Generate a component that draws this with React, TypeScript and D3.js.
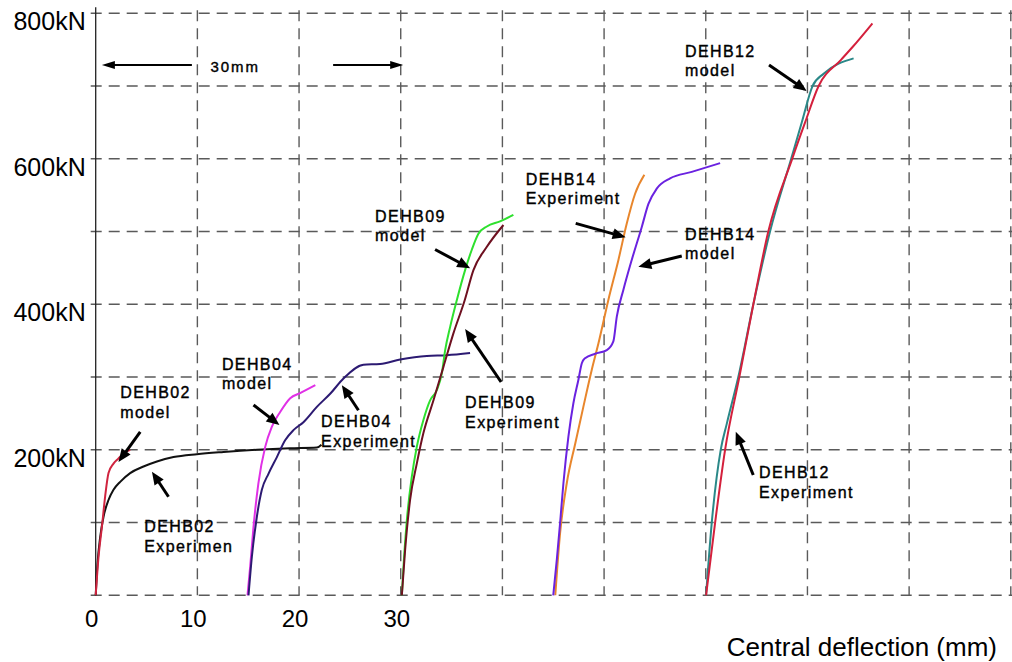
import React from 'react';
import * as d3 from 'd3';

type Pt = [number, number];

// ---- axis values ----
const xTickLabels = [0, 10, 20, 30];
const xGridValues = [10, 20, 30, 40, 50, 60, 70, 80, 90];
const yTickLabels = [200, 400, 600, 800];
const yGridValues = [0, 100, 200, 300, 400, 500, 600, 700, 800];

// ---- series (deflection mm, load kN) ----
const dehb02Model: Pt[] = [[0, 0], [0.28, 53], [0.61, 94], [0.93, 136], [1.26, 168], [1.75, 181], [2.24, 188], [2.73, 195], [3.39, 200]];
const dehb02Exp: Pt[] = [[0, 0], [0.18, 44], [0.44, 80], [0.77, 108], [1.26, 131], [1.75, 145], [2.41, 156], [3.39, 168], [4.7, 177], [6.02, 184], [7.65, 190], [9.95, 194], [12.57, 197], [15.85, 200], [19.1, 202], [21.75, 203], [22.2, 207]];
const dehb04Model: Pt[] = [[14.93, 0], [15.19, 39], [15.52, 94], [16.0, 154], [16.67, 204], [17.33, 232], [18.14, 252], [19.13, 271], [20.1, 278], [21.6, 289]];
const dehb04Exp: Pt[] = [[15.03, 0], [15.36, 53], [15.85, 108], [16.34, 145], [16.99, 167], [17.82, 190], [18.63, 213], [19.45, 227], [20.43, 238], [21.75, 259], [23.06, 277], [24.37, 298], [26.33, 317], [27.97, 318], [29.94, 324], [32.57, 329], [34.53, 330], [36.82, 333]];
const dehb09Model: Pt[] = [[30.11, 0], [30.27, 39], [30.6, 103], [31.09, 163], [31.58, 204], [32.23, 241], [32.89, 268], [33.55, 282], [34.04, 305], [34.37, 337], [34.86, 369], [35.52, 406], [36.33, 447], [36.99, 475], [37.64, 497], [38.47, 507], [39.77, 514], [41.08, 523]];
const dehb09Exp: Pt[] = [[30.11, 0], [30.43, 62], [30.92, 131], [31.58, 181], [32.23, 223], [33.22, 268], [34.2, 314], [35.18, 360], [36.3, 406], [37.15, 447], [38.47, 479], [40.1, 509]];
const dehb14Model: Pt[] = [[45.0, 0], [45.35, 49], [45.67, 99], [46.0, 154], [46.49, 218], [46.98, 264], [47.47, 296], [47.81, 319], [48.13, 326], [49.12, 332], [50.27, 337], [50.91, 349], [51.25, 383], [51.9, 420], [52.72, 461], [53.7, 506], [54.36, 538], [55.18, 559], [56.49, 573], [58.62, 582], [61.41, 594]];
const dehb14Exp: Pt[] = [[45.2, 0], [45.67, 85], [46.33, 154], [47.17, 209], [47.96, 259], [48.79, 310], [49.44, 346], [50.42, 406], [51.41, 461], [52.23, 511], [53.05, 552], [53.96, 578]];
const dehb12Model: Pt[] = [[60.03, 0], [60.59, 100], [61.47, 200], [62.07, 236], [63.2, 300], [64.68, 400], [66.32, 500], [68.4, 600], [69.44, 650], [70.5, 700], [71.59, 717], [74.54, 738]];
const dehb12Exp: Pt[] = [[60.03, 0], [60.92, 100], [61.9, 200], [63.3, 300], [64.68, 400], [66.15, 500], [68.5, 600], [69.77, 650], [71.1, 700], [73.3, 736], [74.46, 754], [76.38, 786]];

const seriesNames = ['dehb02Exp', 'dehb02Model', 'dehb04Model', 'dehb04Exp', 'dehb09Model', 'dehb09Exp', 'dehb14Exp', 'dehb14Model', 'dehb12Model', 'dehb12Exp'];
const seriesData: Record<string, Pt[]> = { dehb02Model, dehb02Exp, dehb04Model, dehb04Exp, dehb09Model, dehb09Exp, dehb14Model, dehb14Exp, dehb12Model, dehb12Exp };
const seriesColors: Record<string, string> = {
  dehb02Model: '#d0243f',
  dehb02Exp: '#111111',
  dehb04Model: '#e030e6',
  dehb04Exp: '#2c1a72',
  dehb09Model: '#2ee02e',
  dehb09Exp: '#6e1020',
  dehb14Model: '#6a22e0',
  dehb14Exp: '#e8862c',
  dehb12Model: '#2a8888',
  dehb12Exp: '#d4203c',
};

// ---- annotations (data coordinates) ----
const labelTexts: string[][] = [
  ['DEHB02', 'model'], ['DEHB02', 'Experimen'], ['DEHB04', 'model'], ['DEHB04', 'Experiment'],
  ['DEHB09', 'model'], ['DEHB09', 'Experiment'], ['DEHB14', 'Experiment'], ['DEHB14', 'model'],
  ['DEHB12', 'model'], ['DEHB12', 'Experiment'],
];
const labelAnchors: Pt[] = [
  [2.41, 271.2], [4.77, 87.0], [12.41, 309.7], [22.17, 231.3],
  [27.48, 513.5], [36.33, 257.4], [42.3, 564.0], [57.96, 488.4],
  [57.96, 740.3], [65.24, 161.2],
];
const arrowTails: Pt[] = [
  [4.38, 224.6], [7.16, 135.5], [15.52, 261.6], [25.84, 254.4], [33.38, 475.3],
  [39.87, 293.2], [47.21, 511.3], [57.64, 466.4], [66.22, 728.9], [64.67, 165.4],
];
const arrowHeads: Pt[] = [
  [2.24, 183.4], [5.53, 169.9], [18.07, 234.1], [24.21, 288.8], [36.83, 449.5],
  [36.33, 366.0], [52.12, 492.1], [53.37, 451.7], [69.93, 693.3], [62.95, 224.9],
];
const spanLabel = '30mm';
const spanLabelAt: Pt = [11.28, 719.3];
const spanArrowTails: Pt[] = [[9.46, 728.9], [23.35, 728.9]];
const spanArrowHeads: Pt[] = [[0.61, 728.9], [30.24, 728.9]];

const xTitle = 'Central deflection (mm)';

const W = 1012;
const H = 662;
const FONT = '"Liberation Sans", Arial, Helvetica, sans-serif';

function Arrow({ t, h, w, len, hw }: { t: [number, number]; h: [number, number]; w: number; len: number; hw: number }) {
  const dx = h[0] - t[0];
  const dy = h[1] - t[1];
  const L = Math.hypot(dx, dy) || 1;
  const ux = dx / L, uy = dy / L;
  const nx = -uy, ny = ux;
  const bx = h[0] - ux * len, by = h[1] - uy * len;
  const ex = h[0] - ux * len * 0.7, ey = h[1] - uy * len * 0.7;
  return (
    <g>
      <line x1={t[0]} y1={t[1]} x2={ex} y2={ey} stroke="#000" strokeWidth={w} />
      <polygon points={`${h[0]},${h[1]} ${bx + nx * hw / 2},${by + ny * hw / 2} ${bx - nx * hw / 2},${by - ny * hw / 2}`} fill="#000" />
    </g>
  );
}

export default function App() {
  const x = d3.scaleLinear().domain([0, 90]).range([95.7, 1010.8]);
  const y = d3.scaleLinear().domain([0, 800]).range([595.3, 13.3]);
  const line = d3.line<Pt>().x(d => x(d[0])).y(d => y(d[1])).curve(d3.curveMonotoneX);
  const px = (p: Pt): [number, number] => [x(p[0]), y(p[1])];

  return (
    <svg width={W} height={H} style={{ position: 'absolute', left: 0, top: 0, background: '#fff' }} fontFamily={FONT}>
      <rect x={0} y={0} width={W} height={H} fill="#fff" />
      {/* grid */}
      {yGridValues.map(v => (
        <line key={'h' + v} x1={x(0) - 5} x2={W} y1={y(v)} y2={y(v)} stroke="#5a5a5a" strokeWidth={1.4} strokeDasharray="11 7" />
      ))}
      {xGridValues.map(v => (
        <line key={'v' + v} x1={x(v)} x2={x(v)} y1={y(800) - 3} y2={y(0)} stroke="#5a5a5a" strokeWidth={1.4} strokeDasharray="11 7" />
      ))}
      {/* y axis */}
      <line x1={x(0)} x2={x(0)} y1={y(800) - 6} y2={y(0)} stroke="#222" strokeWidth={1.3} />

      {/* tick labels */}
      {yTickLabels.map(v => (
        <text key={'yt' + v} x={x(0) - 10} y={y(v) + 17} textAnchor="end" fontSize={25} fill="#000">{v}kN</text>
      ))}
      {xTickLabels.map(v => (
        <text key={'xt' + v} x={x(v) - 4} y={627} textAnchor="middle" fontSize={24} fill="#000">{v}</text>
      ))}
      <text x={997} y={656} textAnchor="end" fontSize={26} fill="#000">{xTitle}</text>

      {/* curves */}
      {seriesNames.map(n => (
        <path key={n} d={line(seriesData[n]) || ''} fill="none" stroke={seriesColors[n]} strokeWidth={2} strokeLinejoin="round" />
      ))}

      {/* labels */}
      {labelTexts.map((lines, i) => {
        const [lx, ly] = px(labelAnchors[i]);
        return (
          <text key={'lb' + i} x={lx} y={ly} fontSize={16} fill="#000" stroke="#000" strokeWidth={0.4} letterSpacing={1.4}>
            {lines.map((s, j) => (
              <tspan key={j} x={lx} dy={j === 0 ? 0 : 19.5}>{s}</tspan>
            ))}
          </text>
        );
      })}
      {arrowTails.map((t, i) => (
        <Arrow key={'ar' + i} t={px(t)} h={px(arrowHeads[i])} w={3} len={13} hw={11} />
      ))}

      {/* 30mm span */}
      <text x={px(spanLabelAt)[0]} y={px(spanLabelAt)[1]} fontSize={15} fill="#000" stroke="#000" strokeWidth={0.4} letterSpacing={2}>{spanLabel}</text>
      {spanArrowTails.map((t, i) => (
        <Arrow key={'sp' + i} t={px(t)} h={px(spanArrowHeads[i])} w={2} len={13} hw={8} />
      ))}
    </svg>
  );
}
